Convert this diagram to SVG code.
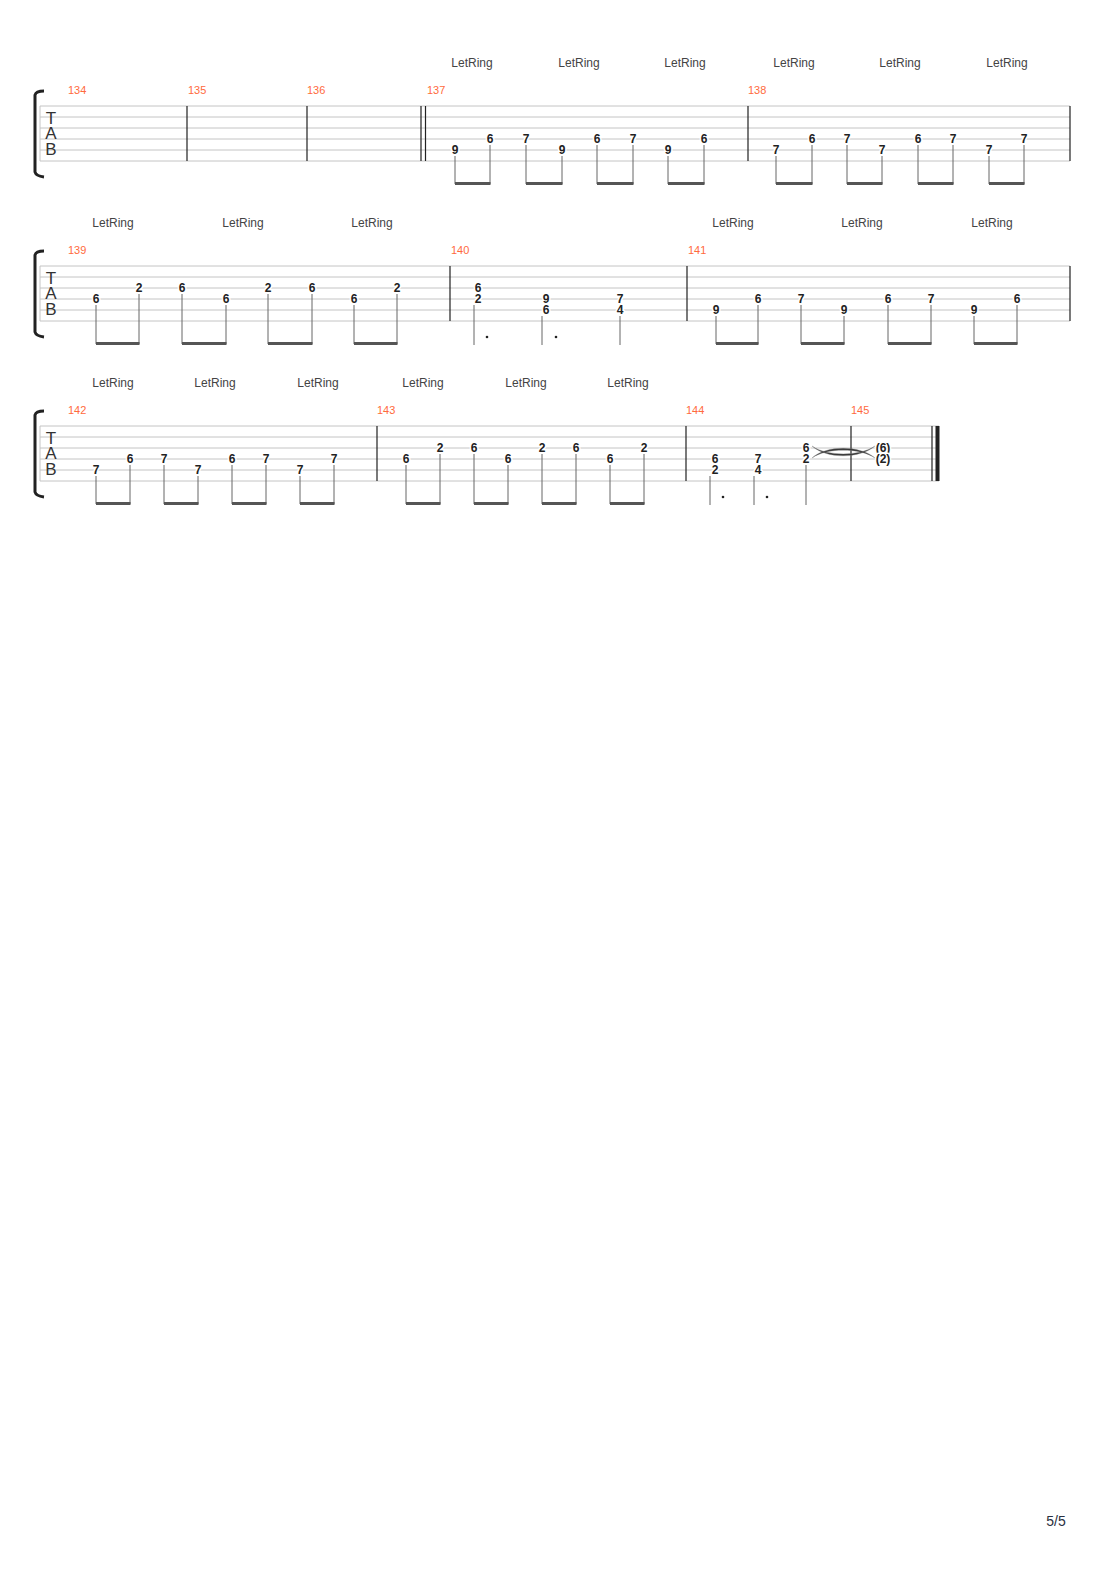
<svg xmlns="http://www.w3.org/2000/svg" width="1110" height="1570" viewBox="0 0 1110 1570">
<style>
.st{stroke:#c4c4c4;stroke-width:1;fill:none}
.bar{stroke:#222;stroke-width:1.2}
.br{stroke:#222;stroke-width:3;fill:none;stroke-linecap:butt}
.tab{font-family:"Liberation Sans",Arial,sans-serif;font-size:17px;fill:#333;text-anchor:middle}
.lr{font-family:"Liberation Sans",Arial,sans-serif;font-size:12px;fill:#444;text-anchor:middle}
.mn{font-family:"Liberation Sans",Arial,sans-serif;font-size:11px;fill:#ff6a3d}
.n{font-family:"Liberation Sans",Arial,sans-serif;font-size:12px;font-weight:bold;fill:#222;text-anchor:middle;stroke:#fff;stroke-width:3;paint-order:stroke;stroke-linejoin:round}
.sm{stroke:#666;stroke-width:1}
.bm{fill:#555}
.dot{fill:#222}
.pg{font-family:"Liberation Sans",Arial,sans-serif;font-size:14px;fill:#2a3040;text-anchor:middle}
</style>
<rect width="1110" height="1570" fill="#fff"/>

<g id="system1">
  <g id="staff1">
    <path class="st" d="M40,106H1070M40,117H1070M40,128H1070M40,139H1070M40,150H1070M40,161H1070M40,106V161"/>
    <path class="br" d="M44,91 Q36,91 35,95 V172 Q36,176 44,177"/>
    <text class="tab"><tspan x="51" y="124">T</tspan><tspan x="51" y="139">A</tspan><tspan x="51" y="155">B</tspan></text>
    <path class="bar" d="M187,106V161M307,106V161M421,106V161M425.5,106V161M748,106V161M1070,106V161"/>
  </g>
  <g id="m134"><text class="mn" x="68" y="94">134</text></g>
  <g id="m135"><text class="mn" x="188" y="94">135</text></g>
  <g id="m136"><text class="mn" x="307" y="94">136</text></g>
  <g id="m137">
    <text class="mn" x="427" y="94">137</text>
    <text class="lr" x="472" y="67">LetRing</text>
    <text class="lr" x="579" y="67">LetRing</text>
    <text class="lr" x="685" y="67">LetRing</text>
    <text class="n" x="455" y="154">9</text>
    <text class="n" x="490" y="143">6</text>
    <text class="n" x="526" y="143">7</text>
    <text class="n" x="562" y="154">9</text>
    <text class="n" x="597" y="143">6</text>
    <text class="n" x="633" y="143">7</text>
    <text class="n" x="668" y="154">9</text>
    <text class="n" x="704" y="143">6</text>
    <path class="sm" d="M455,156V184M490,145V184M526,145V184M562,156V184M597,145V184M633,145V184M668,156V184M704,145V184"/>
    <rect class="bm" x="455" y="182" width="35.5" height="3"/>
    <rect class="bm" x="526" y="182" width="36.5" height="3"/>
    <rect class="bm" x="597" y="182" width="36.5" height="3"/>
    <rect class="bm" x="668" y="182" width="36.5" height="3"/>
  </g>
  <g id="m138">
    <text class="mn" x="748" y="94">138</text>
    <text class="lr" x="794" y="67">LetRing</text>
    <text class="lr" x="900" y="67">LetRing</text>
    <text class="lr" x="1007" y="67">LetRing</text>
    <text class="n" x="776" y="154">7</text>
    <text class="n" x="812" y="143">6</text>
    <text class="n" x="847" y="143">7</text>
    <text class="n" x="882" y="154">7</text>
    <text class="n" x="918" y="143">6</text>
    <text class="n" x="953" y="143">7</text>
    <text class="n" x="989" y="154">7</text>
    <text class="n" x="1024" y="143">7</text>
    <path class="sm" d="M776,156V184M812,145V184M847,145V184M882,156V184M918,145V184M953,145V184M989,156V184M1024,145V184"/>
    <rect class="bm" x="776" y="182" width="36.5" height="3"/>
    <rect class="bm" x="847" y="182" width="35.5" height="3"/>
    <rect class="bm" x="918" y="182" width="35.5" height="3"/>
    <rect class="bm" x="989" y="182" width="35.5" height="3"/>
  </g>
</g>

<g id="system2">
  <g id="staff2">
    <path class="st" d="M40,266H1070M40,277H1070M40,288H1070M40,299H1070M40,310H1070M40,321H1070M40,266V321"/>
    <path class="br" d="M44,251 Q36,251 35,255 V332 Q36,336 44,337"/>
    <text class="tab"><tspan x="51" y="284">T</tspan><tspan x="51" y="299">A</tspan><tspan x="51" y="315">B</tspan></text>
    <path class="bar" d="M450,266V321M687,266V321M1070,266V321"/>
  </g>
  <g id="m139">
    <text class="mn" x="68" y="254">139</text>
    <text class="lr" x="113" y="227">LetRing</text>
    <text class="lr" x="243" y="227">LetRing</text>
    <text class="lr" x="372" y="227">LetRing</text>
    <text class="n" x="96" y="303">6</text>
    <text class="n" x="139" y="292">2</text>
    <text class="n" x="182" y="292">6</text>
    <text class="n" x="226" y="303">6</text>
    <text class="n" x="268" y="292">2</text>
    <text class="n" x="312" y="292">6</text>
    <text class="n" x="354" y="303">6</text>
    <text class="n" x="397" y="292">2</text>
    <path class="sm" d="M96,305V344M139,294V344M182,294V344M226,305V344M268,294V344M312,294V344M354,305V344M397,294V344"/>
    <rect class="bm" x="96" y="342" width="43.5" height="3"/>
    <rect class="bm" x="182" y="342" width="44.5" height="3"/>
    <rect class="bm" x="268" y="342" width="44.5" height="3"/>
    <rect class="bm" x="354" y="342" width="43.5" height="3"/>
  </g>
  <g id="m140">
    <text class="mn" x="451" y="254">140</text>
    <text class="n" x="478" y="292">6</text>
    <text class="n" x="478" y="303">2</text>
    <text class="n" x="546" y="303">9</text>
    <text class="n" x="546" y="314">6</text>
    <text class="n" x="620" y="303">7</text>
    <text class="n" x="620" y="314">4</text>
    <path class="sm" d="M474,305V345M542,316V345M620,316V345"/>
    <circle class="dot" cx="487" cy="337" r="1.3"/>
    <circle class="dot" cx="556" cy="337" r="1.3"/>
  </g>
  <g id="m141">
    <text class="mn" x="688" y="254">141</text>
    <text class="lr" x="733" y="227">LetRing</text>
    <text class="lr" x="862" y="227">LetRing</text>
    <text class="lr" x="992" y="227">LetRing</text>
    <text class="n" x="716" y="314">9</text>
    <text class="n" x="758" y="303">6</text>
    <text class="n" x="801" y="303">7</text>
    <text class="n" x="844" y="314">9</text>
    <text class="n" x="888" y="303">6</text>
    <text class="n" x="931" y="303">7</text>
    <text class="n" x="974" y="314">9</text>
    <text class="n" x="1017" y="303">6</text>
    <path class="sm" d="M716,316V344M758,305V344M801,305V344M844,316V344M888,305V344M931,305V344M974,316V344M1017,305V344"/>
    <rect class="bm" x="716" y="342" width="42.5" height="3"/>
    <rect class="bm" x="801" y="342" width="43.5" height="3"/>
    <rect class="bm" x="888" y="342" width="43.5" height="3"/>
    <rect class="bm" x="974" y="342" width="43.5" height="3"/>
  </g>
</g>

<g id="system3">
  <g id="staff3">
    <path class="st" d="M40,426H939M40,437H939M40,448H939M40,459H939M40,470H939M40,481H939M40,426V481"/>
    <path class="br" d="M44,411 Q36,411 35,415 V492 Q36,496 44,497"/>
    <text class="tab"><tspan x="51" y="444">T</tspan><tspan x="51" y="459">A</tspan><tspan x="51" y="475">B</tspan></text>
    <path class="bar" d="M377,426V481M686,426V481M851,426V481M932,426V481"/>
    <rect x="935.5" y="426" width="4" height="55" fill="#222"/>
  </g>
  <g id="m142">
    <text class="mn" x="68" y="414">142</text>
    <text class="lr" x="113" y="387">LetRing</text>
    <text class="lr" x="215" y="387">LetRing</text>
    <text class="lr" x="318" y="387">LetRing</text>
    <text class="n" x="96" y="474">7</text>
    <text class="n" x="130" y="463">6</text>
    <text class="n" x="164" y="463">7</text>
    <text class="n" x="198" y="474">7</text>
    <text class="n" x="232" y="463">6</text>
    <text class="n" x="266" y="463">7</text>
    <text class="n" x="300" y="474">7</text>
    <text class="n" x="334" y="463">7</text>
    <path class="sm" d="M96,476V504M130,465V504M164,465V504M198,476V504M232,465V504M266,465V504M300,476V504M334,465V504"/>
    <rect class="bm" x="96" y="502" width="34.5" height="3"/>
    <rect class="bm" x="164" y="502" width="34.5" height="3"/>
    <rect class="bm" x="232" y="502" width="34.5" height="3"/>
    <rect class="bm" x="300" y="502" width="34.5" height="3"/>
  </g>
  <g id="m143">
    <text class="mn" x="377" y="414">143</text>
    <text class="lr" x="423" y="387">LetRing</text>
    <text class="lr" x="526" y="387">LetRing</text>
    <text class="lr" x="628" y="387">LetRing</text>
    <text class="n" x="406" y="463">6</text>
    <text class="n" x="440" y="452">2</text>
    <text class="n" x="474" y="452">6</text>
    <text class="n" x="508" y="463">6</text>
    <text class="n" x="542" y="452">2</text>
    <text class="n" x="576" y="452">6</text>
    <text class="n" x="610" y="463">6</text>
    <text class="n" x="644" y="452">2</text>
    <path class="sm" d="M406,465V504M440,454V504M474,454V504M508,465V504M542,454V504M576,454V504M610,465V504M644,454V504"/>
    <rect class="bm" x="406" y="502" width="34.5" height="3"/>
    <rect class="bm" x="474" y="502" width="34.5" height="3"/>
    <rect class="bm" x="542" y="502" width="34.5" height="3"/>
    <rect class="bm" x="610" y="502" width="34.5" height="3"/>
  </g>
  <g id="m144">
    <text class="mn" x="686" y="414">144</text>
    <text class="n" x="715" y="463">6</text>
    <text class="n" x="715" y="474">2</text>
    <text class="n" x="758" y="463">7</text>
    <text class="n" x="758" y="474">4</text>
    <text class="n" x="806" y="452">6</text>
    <text class="n" x="806" y="463">2</text>
    <path class="sm" d="M710,476V505M754,476V505M806,465V505"/>
    <circle class="dot" cx="723" cy="497" r="1.3"/>
    <circle class="dot" cx="767" cy="497" r="1.3"/>
  </g>
  <g id="ties">
    <path d="M812,446 C826,459 860,459 875,446 C860,456.5 826,456.5 812,446 Z" fill="#333" stroke="#888" stroke-width="0.4"/>
    <path d="M812,458 C826,445 860,445 875,458 C860,447.5 826,447.5 812,458 Z" fill="#333" stroke="#888" stroke-width="0.4"/>
  </g>
  <g id="m145">
    <text class="mn" x="851" y="414">145</text>
    <text class="n" x="883" y="452">(6)</text>
    <text class="n" x="883" y="463">(2)</text>
  </g>
</g>

<text class="pg" x="1056" y="1526">5/5</text>
</svg>
